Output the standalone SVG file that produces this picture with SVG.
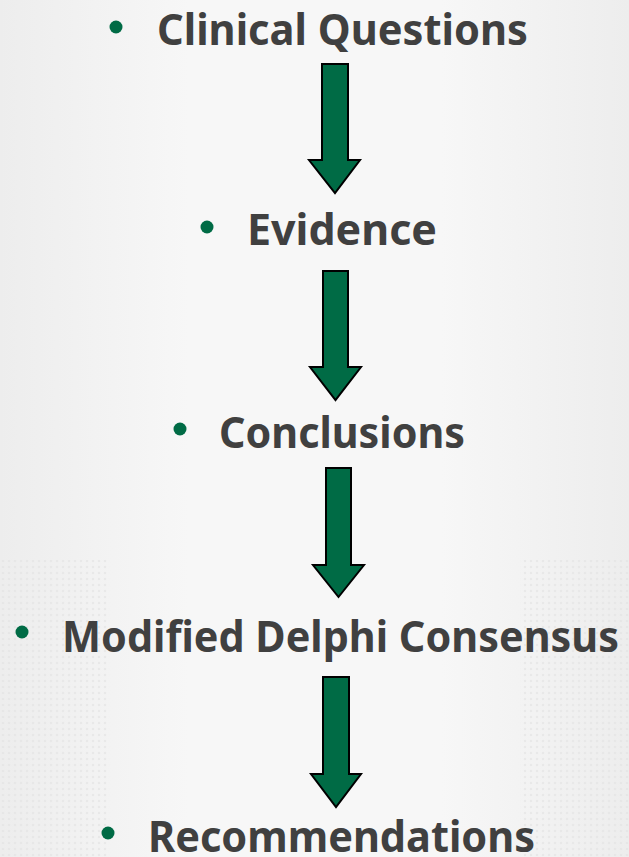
<svg xmlns="http://www.w3.org/2000/svg" width="629" height="857" viewBox="0 0 629 857">
<defs>
<linearGradient id="bg" x1="0" y1="0" x2="1" y2="0">
<stop offset="0" stop-color="#ededed"/>
<stop offset="0.3" stop-color="#f7f7f7"/>
<stop offset="0.7" stop-color="#f7f7f7"/>
<stop offset="1" stop-color="#ededed"/>
</linearGradient>
<pattern id="dots" width="6" height="6" patternUnits="userSpaceOnUse">
<circle cx="3" cy="3" r="1.3" fill="#e2e2e2"/>
</pattern>
<style>
.lbl{font-family:"Noto Sans","Open Sans","DejaVu Sans",sans-serif;font-weight:bold;font-size:43px;fill:#404040}
.bul{fill:#006b45}
.arr{fill:#006b45;stroke:#000;stroke-width:2;stroke-linejoin:miter}
</style>
</defs>
<rect width="629" height="857" fill="url(#bg)"/>
<rect x="0" y="560" width="110" height="297" fill="url(#dots)" opacity="0.6"/>
<rect x="520" y="560" width="109" height="297" fill="url(#dots)" opacity="0.6"/>
<g id="n1"><circle class="bul" cx="116" cy="27" r="6.5"/><text class="lbl" x="157" y="45" textLength="371" lengthAdjust="spacingAndGlyphs">Clinical Questions</text></g>
<g id="n2"><circle class="bul" cx="207" cy="227" r="6.5"/><text class="lbl" x="247" y="245" textLength="190" lengthAdjust="spacingAndGlyphs">Evidence</text></g>
<g id="n3"><circle class="bul" cx="180" cy="429" r="6.5"/><text class="lbl" x="219" y="448" textLength="246" lengthAdjust="spacingAndGlyphs">Conclusions</text></g>
<g id="n4"><circle class="bul" cx="22" cy="632" r="6.5"/><text class="lbl" x="62" y="652" font-size="40.5" textLength="557" lengthAdjust="spacingAndGlyphs">Modified Delphi Consensus</text></g>
<g id="n5"><circle class="bul" cx="108" cy="833" r="6.5"/><text class="lbl" x="148" y="852" textLength="387" lengthAdjust="spacingAndGlyphs">Recommendations</text></g>
<g id="connectors">
<polygon class="arr" points="322,64 348,64 348,160 360,160 335,193 309,160 322,160"/>
<polygon class="arr" points="323,271 348,271 348,367 361,367 335.5,400 310,367 323,367"/>
<polygon class="arr" points="326,468 351,468 351,565 364,565 338.5,597 313,565 326,565"/>
<polygon class="arr" points="323,677 349,677 349,774 361,774 336,807 311,774 323,774"/>
</g>
</svg>
